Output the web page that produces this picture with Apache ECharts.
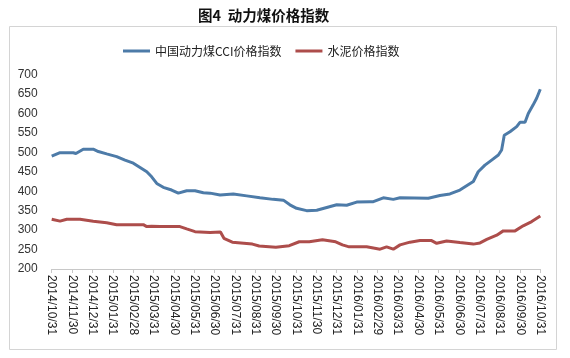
<!DOCTYPE html>
<html><head><meta charset="utf-8">
<script src="https://cdn.jsdelivr.net/npm/echarts@6/dist/echarts.min.js"></script>
<style>html,body{margin:0;padding:0;background:#fff}#c{width:570px;height:358px}</style>
</head><body><div id="c"></div>
<script>
const titleText = '图4  动力煤价格指数';
const seriesNames = ['中国动力煤CCI价格指数', '水泥价格指数'];
const monthLabels = ['2014/10/31','2014/11/30','2014/12/31','2015/01/31','2015/02/28','2015/03/31','2015/04/30','2015/05/31','2015/06/30','2015/07/31','2015/08/31','2015/09/30','2015/10/31','2015/11/30','2015/12/31','2016/01/31','2016/02/29','2016/03/31','2016/04/30','2016/05/31','2016/06/30','2016/07/31','2016/08/31','2016/09/30','2016/10/31'];
// x = position in months from 2014/10/31
const coalX = [0,0.41,1.06,1.19,1.55,2.04,2.29,2.70,3.19,3.60,4.01,4.34,4.67,4.91,5.16,5.48,5.89,6.22,6.63,7.04,7.45,7.78,8.27,8.92,9.58,10.23,10.88,11.38,11.70,12.03,12.52,13.02,13.51,14.00,14.49,14.98,15.63,15.80,16.29,16.78,17.11,18.50,19.07,19.56,20.05,20.38,20.71,20.95,21.28,21.61,21.94,22.10,22.23,22.51,22.84,23.00,23.25,23.41,23.65,23.82,24];
const coalY = [490,499,499,497,508,508,502,496,489,480,472,461,450,437,420,410,403,395,401,401,396,395,390,393,388,383,379,377,365,356,350,351,358,365,364,372,373,373,383,379,383,382,389,393,403,414,425,450,467,480,493,506,544,553,566,577,577,600,622,639,662];
const cementX = [0,0.41,0.74,1.39,2.04,2.70,3.19,4.50,4.67,4.91,5.32,6.30,6.63,7.04,7.78,8.29,8.46,8.87,9.86,10.19,11.01,11.67,12.16,12.65,13.30,13.95,14.28,14.61,15.47,16.13,16.45,16.78,17.11,17.60,18.09,18.66,18.91,19.40,20.05,20.71,21.04,21.37,21.86,22.18,22.76,23.16,23.58,24];
const cementY = [328,323,328,328,323,319,314,314,309,310,309,309,303,296,294,295,279,269,264,259,256,260,270,270,275,270,262,257,257,251,257,251,262,269,273,273,266,272,268,264,267,276,287,298,298,311,322,336];
const yTicks = {min:200, max:700, interval:50};

const chart = echarts.init(document.getElementById('c'), null, {renderer:'canvas'});
const zip = (xs, ys) => xs.map((x,i)=>[x, ys[i]]);
chart.setOption({
  animation:false,
  backgroundColor:'#fff',
  title:{text:titleText, left:193, top:3, textStyle:{fontFamily:'Noto Sans CJK SC', fontWeight:'bold', fontSize:14.5, color:'#111'}},
  graphic:[{type:'rect', shape:{x:9.5,y:26.5,width:547,height:323}, style:{fill:'none', stroke:'#d4d4d4', lineWidth:1}, z:-1}],
  legend:{top:40, left:118, itemWidth:27, itemHeight:3, itemGap:14, icon:'rect',
    textStyle:{fontFamily:'Noto Sans CJK SC', fontSize:12, color:'#222'}, data:seriesNames},
  grid:{left:51.7, right:29.7, top:74.5, bottom:89, containLabel:false},
  xAxis:{type:'value', min:0, max:24, interval:1,
    axisLine:{lineStyle:{color:'#c8c8c8'}}, axisTick:{length:4, lineStyle:{color:'#c8c8c8'}},
    splitLine:{show:false},
    axisLabel:{rotate:-90, fontSize:12, color:'#222', fontFamily:'Liberation Sans', margin:6, formatter:v=>monthLabels[v]||''}},
  yAxis:{type:'value', min:yTicks.min, max:yTicks.max, interval:yTicks.interval,
    axisLine:{show:false}, axisTick:{show:false}, splitLine:{show:false},
    axisLabel:{fontSize:12, color:'#333', fontFamily:'Liberation Sans', margin:14}},
  series:[
    {name:seriesNames[0], type:'line', data:zip(coalX, coalY), showSymbol:false, lineStyle:{width:3, color:'#4d7ba8'}, itemStyle:{color:'#4d7ba8'}},
    {name:seriesNames[1], type:'line', data:zip(cementX, cementY), showSymbol:false, lineStyle:{width:3, color:'#ad4d4b'}, itemStyle:{color:'#ad4d4b'}}
  ]
});
</script></body></html>
